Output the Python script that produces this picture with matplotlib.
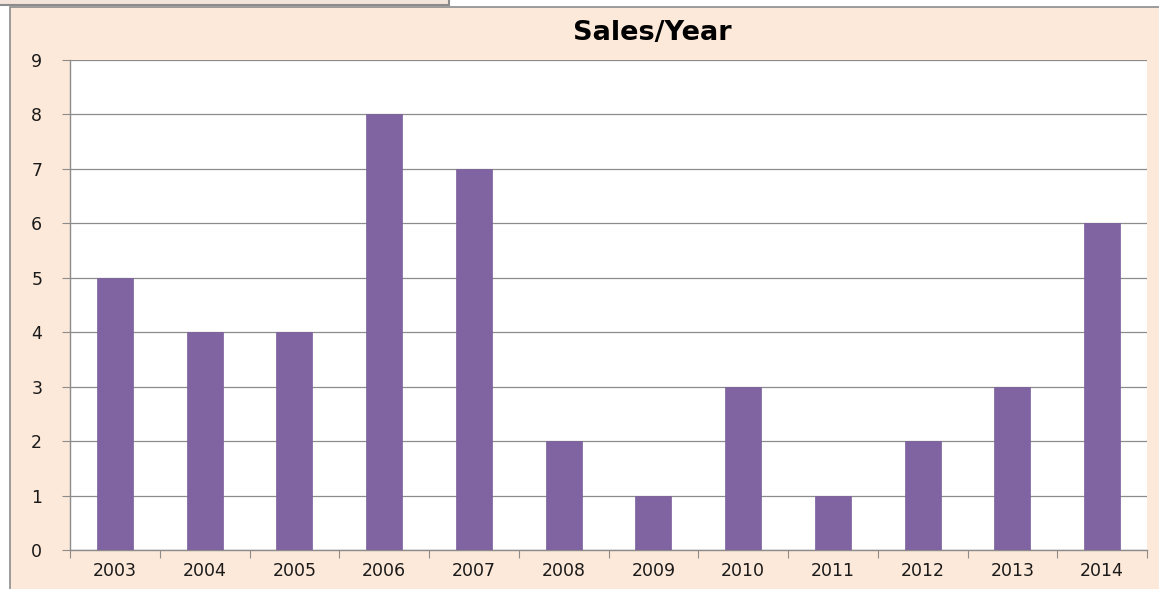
import numpy as np
import matplotlib
matplotlib.use('Agg')
import matplotlib.pyplot as plt
from matplotlib.patches import Rectangle

years = ['2003', '2004', '2005', '2006', '2007', '2008', '2009',
         '2010', '2011', '2012', '2013', '2014']
sales = [5, 4, 4, 8, 7, 2, 1, 3, 1, 2, 3, 6]

W, H = 1159, 589
fig = plt.figure(figsize=(W / 100, H / 100), dpi=100)
fig.patch.set_facecolor('white')

# moldura do gráfico (fundo pêssego estilo Excel)
fig.patches.append(Rectangle((10 / W, -0.01), 1, 1 - 7 / H + 0.01, transform=fig.transFigure,
                             facecolor='#fde9d9', edgecolor='#8c8c8c', lw=1.2, zorder=0))
fig.patches.append(Rectangle((-0.01, 1 - 5 / H), 461 / W, 0.02, transform=fig.transFigure,
                             facecolor='#f3e4dc', edgecolor='#8c8c8c', lw=1.5, zorder=0))

ax = fig.add_axes([70 / W, 39 / H, 1077 / W, 490 / H])
ax.set_zorder(2)
ax.set_facecolor('white')
x = np.arange(len(years))
ax.bar(x, sales, width=0.4, color='#8064a2', edgecolor='#7a5f9c', lw=0.5, zorder=3)

ax.set_xlim(-0.5, len(years) - 0.5)
ax.set_ylim(0, 9)
ax.set_yticks(range(10))
ax.yaxis.grid(True, color='#8c8c8c', lw=0.9, zorder=0)
ax.set_xticks(np.arange(-0.5, len(years), 1.0))
ax.set_xticklabels([])
ax.set_xticks(x, minor=True)
ax.set_xticklabels(years, minor=True)
ax.tick_params(axis='x', which='major', length=6, color='#8c8c8c', direction='out')
ax.tick_params(axis='x', which='minor', length=0, pad=9, labelsize=12.5, labelcolor='#1a1a1a')
ax.tick_params(axis='y', length=6, color='#8c8c8c', pad=14, labelsize=12.5, labelcolor='#1a1a1a')
for s in ['top', 'right']:
    ax.spines[s].set_visible(False)
for s in ['left', 'bottom']:
    ax.spines[s].set_color('#8c8c8c')
    ax.spines[s].set_linewidth(1.0)

fig.text(652 / W, 1 - 33 / H, 'Sales/Year', ha='center', va='center',
         fontsize=19.5, fontweight='bold', color='black')

fig.savefig('out.png', dpi=100, facecolor=fig.get_facecolor())
